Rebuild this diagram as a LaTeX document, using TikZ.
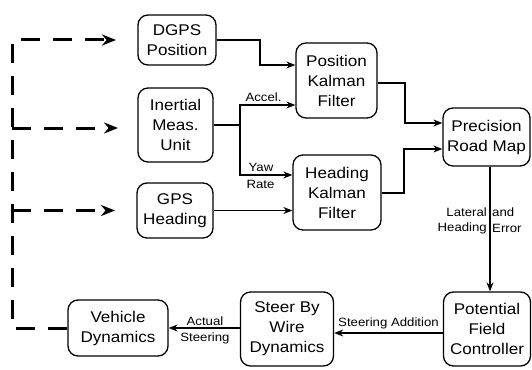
\documentclass[tikz,border=0pt]{standalone}
\usepackage{fontspec}
\setmainfont[FakeStretch=1.1]{Liberation Sans}
\usetikzlibrary{arrows.meta}
\begin{document}
\begin{tikzpicture}[x=1pt,y=-1pt,
  box/.style={draw, line width=1.3pt, rounded corners=10pt, align=center,
    font=\fontsize{15.5}{20}\selectfont, inner sep=0pt},
  conn/.style={line width=1.1pt, -{Stealth[length=9pt,width=7pt]}},
  plainline/.style={line width=1.1pt},
  dashline/.style={line width=3pt, dash pattern=on 19pt off 13pt},
  dasharrow/.style={dashline, -{Stealth[length=14pt,width=11pt]}},
  lbl/.style={font=\fontsize{12}{13}\selectfont, inner sep=0pt}]
\useasboundingbox (0,0) rectangle (532,369);

% boxes
\node[box, minimum width=78pt, minimum height=50pt] (dgps) at (177,40) {DGPS\\Position};
\node[box, minimum width=75pt, minimum height=74pt] (imu) at (175.5,125) {Inertial\\Meas.\\Unit};
\node[box, minimum width=76pt, minimum height=55pt] (gps) at (175,210.5) {GPS\\Heading};
\node[box, minimum width=81pt, minimum height=75pt] (pkf) at (336.5,80.5) {Position\\Kalman\\Filter};
\node[box, minimum width=88pt, minimum height=75pt] (hkf) at (337,192.5) {Heading\\Kalman\\Filter};
\node[box, minimum width=87pt, minimum height=58pt] (prm) at (486.5,137) {Precision\\Road Map};
\node[box, minimum width=87pt, minimum height=74pt] (pfc) at (487,329) {Potential\\Field\\Controller};
\node[box, minimum width=93pt, minimum height=74pt] (sbw) at (287,329) {Steer By\\Wire\\Dynamics};
\node[box, minimum width=100pt, minimum height=56pt] (vd) at (118,328) {Vehicle\\Dynamics};

% helper coordinates
\coordinate (y65) at (0,65);
\coordinate (y105) at (0,105);
\coordinate (y175) at (0,175);
\coordinate (y83) at (0,83);
\coordinate (y123) at (0,123);
\coordinate (y193) at (0,193);
\coordinate (y149) at (0,149);
\coordinate (y333) at (0,333);
\coordinate (x490) at (490,0);
\coordinate (imuj) at (240,125);
\coordinate (pkfj) at (405,83);
\coordinate (hkfj) at (404,193);
\coordinate (dgpsj) at (260,40);
\coordinate (dc) at (12,40);
\coordinate (d1) at (116,40);
\coordinate (m0) at (12,128);
\coordinate (m1) at (118,128);
\coordinate (b0) at (12,210.5);
\coordinate (b1) at (115,210.5);

% connectors
\draw[conn] (dgps.east) -- (dgpsj) |- (pkf.west |- y65);
\draw[plainline] (imu.east |- imuj) -- (imuj);
\draw[conn] (imuj) |- (pkf.west |- y105);
\draw[conn] (imuj) |- (hkf.west |- y175);
\draw[conn] (gps.east) -- (hkf.west |- gps.east);
\draw[conn] (pkf.east |- y83) -- (pkfj) |- (prm.west |- y123);
\draw[conn] (hkf.east |- y193) -- (hkfj) |- (prm.west |- y149);
\draw[conn] (prm.south -| x490) -- (pfc.north -| x490);
\draw[conn] (pfc.west |- y333) -- (sbw.east |- y333);
\draw[conn] (sbw.west |- vd.east) -- (vd.east);

% dashed feedback
\draw[dasharrow] (vd.west) -| (dc) -- (d1);
\draw[dasharrow] (m0) -- (m1);
\draw[dasharrow] (b0) -- (b1);

% labels
\node[lbl] (la) at (263.5,97) {Accel.};
\node[lbl] (ly) at (261,167) {Yaw};
\node[lbl] (lr) at (260.5,184) {Rate};
\node[lbl, anchor=east] (ll1) at (487,212) {Lateral};
\node[lbl, anchor=west] (ll2) at (492,212) {and};
\node[lbl, anchor=east] (ll3) at (487,228) {Heading};
\node[lbl, anchor=west] (ll4) at (492,228) {Error};
\node[lbl] (lsa) at (388.5,323) {Steering Addition};
\node[lbl] (lac) at (205,321) {Actual};
\node[lbl] (lst) at (205,338) {Steering};
\end{tikzpicture}
\end{document}
